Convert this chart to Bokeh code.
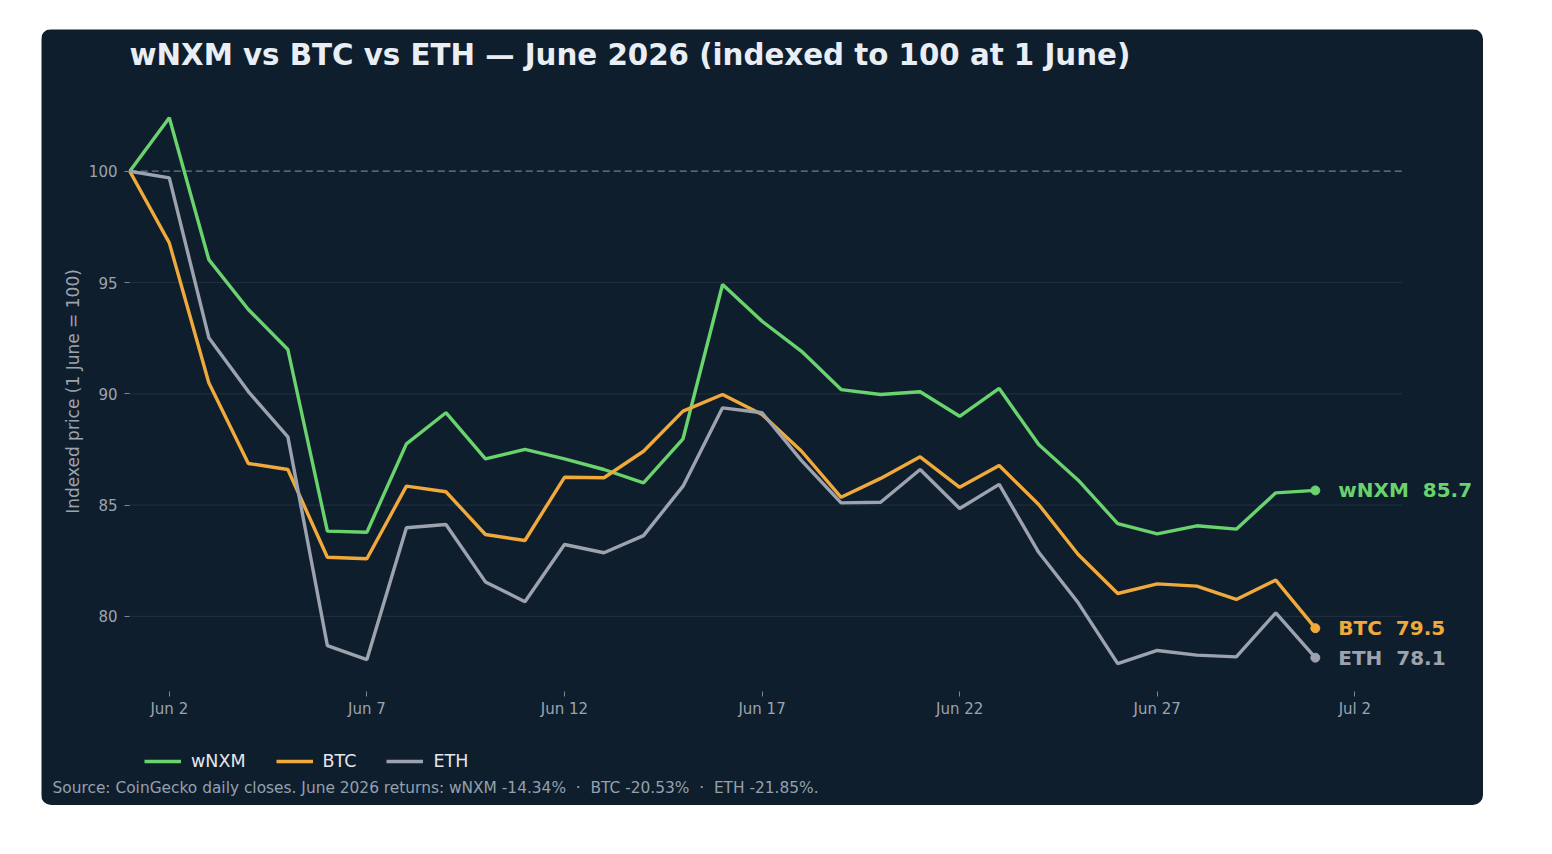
import math
import pandas as pd

from bokeh.plotting import figure
from bokeh.models import (ColumnDataSource, Legend, LegendItem, Label,
                          DatetimeTickFormatter, FixedTicker, Range1d)
from bokeh.core.properties import value
from bokeh.embed import file_html
from bokeh.resources import INLINE

# daily closes, indexed to 100 at 1 June (Jun 1 .. Jul 1)
dates = pd.date_range("2026-06-01", "2026-07-01", freq="D")

wnxm = [100.0, 102.4, 96.03, 93.79, 91.99, 83.83, 83.78, 87.75, 89.15, 87.08,
        87.5, 87.08, 86.6, 86.0, 87.98, 94.91, 93.26, 91.91, 90.19, 89.97,
        90.09, 88.99, 90.24, 87.72, 86.12, 84.17, 83.71, 84.07, 83.92, 85.55,
        85.66]
btc = [100.0, 96.78, 90.5, 86.87, 86.6, 82.66, 82.59, 85.85, 85.6, 83.68,
       83.41, 86.25, 86.23, 87.42, 89.22, 89.97, 89.07, 87.42, 85.35, 86.2,
       87.17, 85.8, 86.78, 85.03, 82.78, 81.03, 81.46, 81.36, 80.76, 81.63,
       79.47]
eth = [100.0, 99.7, 92.52, 90.1, 88.07, 78.69, 78.06, 83.98, 84.13, 81.55,
       80.66, 83.23, 82.86, 83.63, 85.85, 89.37, 89.15, 87.0, 85.1, 85.13,
       86.6, 84.85, 85.93, 82.88, 80.61, 77.88, 78.47, 78.26, 78.18, 80.16,
       78.146]

names = ["wNXM", "BTC", "ETH"]
colors = ["#69d36e", "#f0a93b", "#9ca3af"]
series = [wnxm, btc, eth]

tick_dates = pd.date_range("2026-06-02", "2026-07-02", freq="5D")
y_ticks = [80, 85, 90, 95, 100]

BG = "#0f1e2d"
FONT = "DejaVu Sans"
MUTED = "#9ca3af"
NB = "\u00a0"  # svg collapses plain double spaces

day = pd.Timedelta(days=1)
# the frame is the whole dark card; axes are pinned inside it
x_lo = dates[0] - 2.234 * day
x_hi = x_lo + 36.49 * day
y_lo, y_hi = 71.505, 106.366
axis_x = dates[0] - 0.0076 * day
axis_y = 76.626
grid_end = dates[0] + 32.2 * day

p = figure(x_axis_type="datetime", output_backend="svg", toolbar_location=None,
           title=None, frame_width=1442, frame_height=776,
           min_border=0,
           x_range=Range1d(x_lo, x_hi), y_range=Range1d(y_lo, y_hi),
           margin=(29, 0, 0, 41))
p.styles = {"border-radius": "10px", "overflow": "hidden"}
p.background_fill_color = BG
p.border_fill_color = BG
p.outline_line_color = None

p.grid.grid_line_color = None
p.segment(x0=[axis_x] * 4, x1=[grid_end] * 4, y0=y_ticks[:-1], y1=y_ticks[:-1],
          line_color="#1f2d3c", line_width=1.2)
p.segment(x0=[dates[0]], x1=[grid_end], y0=[100], y1=[100],
          line_color="#8a94a3", line_alpha=0.8, line_dash="7 4", line_width=1.3)

for ax in (p.xaxis, p.yaxis):
    ax.axis_line_color = None
    ax.major_tick_line_color = "#7d8896"
    ax.minor_tick_line_color = None
    ax.major_tick_in = 0
    ax.major_tick_out = 5
    ax.major_label_text_color = MUTED
    ax.major_label_text_font = FONT
    ax.major_label_text_font_size = "15px"

p.xaxis.fixed_location = axis_y
p.xaxis.ticker = FixedTicker(ticks=[d.value / 1e6 for d in tick_dates])
p.xaxis.formatter = DatetimeTickFormatter(days="%b %-d", months="%b %-d")
p.xaxis.major_label_standoff = 3
p.yaxis.fixed_location = axis_x.value / 1e6
p.yaxis.ticker = FixedTicker(ticks=y_ticks)
p.yaxis.major_label_standoff = 7

items = []
for name, vals, col in zip(names, series, colors):
    src = ColumnDataSource(dict(x=dates, y=vals))
    r = p.line("x", "y", source=src, line_color=col, line_width=3.4)
    items.append(LegendItem(label=name, renderers=[r]))
    end = ColumnDataSource(dict(x=[dates[-1]], y=[vals[-1]],
                                t=[f"{name}{NB}{NB}{vals[-1]:.1f}"]))
    p.scatter("x", "y", source=end, size=9, color=col)
    p.text("x", "y", text="t", source=end, x_offset=23, text_color=col,
           text_font=value(FONT), text_font_style="bold",
           text_font_size="20px", text_baseline="middle")

# screen units below are measured from the card's bottom-left corner
legend = Legend(items=items, orientation="horizontal", location=(103, 34),
                padding=0, margin=0, spacing=30, glyph_width=37,
                glyph_height=20, label_height=20, label_standoff=10,
                label_text_font=FONT, label_text_font_size="17.5px",
                label_text_color="#e5e7eb", background_fill_alpha=0,
                border_line_alpha=0)
p.add_layout(legend)

p.add_layout(Label(x=88, y=751, x_units="screen", y_units="screen",
                   text="wNXM vs BTC vs ETH — June 2026 (indexed to 100 at 1 June)",
                   text_font=FONT, text_font_style="bold",
                   text_font_size="29.3px", text_color="#e8eef4",
                   text_baseline="middle"))

p.add_layout(Label(x=31, y=414, x_units="screen", y_units="screen",
                   angle=math.pi / 2, text="Indexed price (1 June = 100)",
                   text_font=FONT, text_font_size="17px", text_color=MUTED,
                   text_align="center", text_baseline="middle"))

ret = [v[-1] - 100 for v in series]
sep = f"{NB} · {NB}"
source_txt = ("Source: CoinGecko daily closes. June 2026 returns: "
              + sep.join(f"{n} {r:.2f}%" for n, r in zip(names, ret)) + ".")
p.add_layout(Label(x=11, y=18, x_units="screen", y_units="screen",
                   text=source_txt, text_font=FONT, text_font_size="15.4px",
                   text_color="#94a0ae", text_baseline="middle"))

open("out.html", "w").write(file_html(p, INLINE))
